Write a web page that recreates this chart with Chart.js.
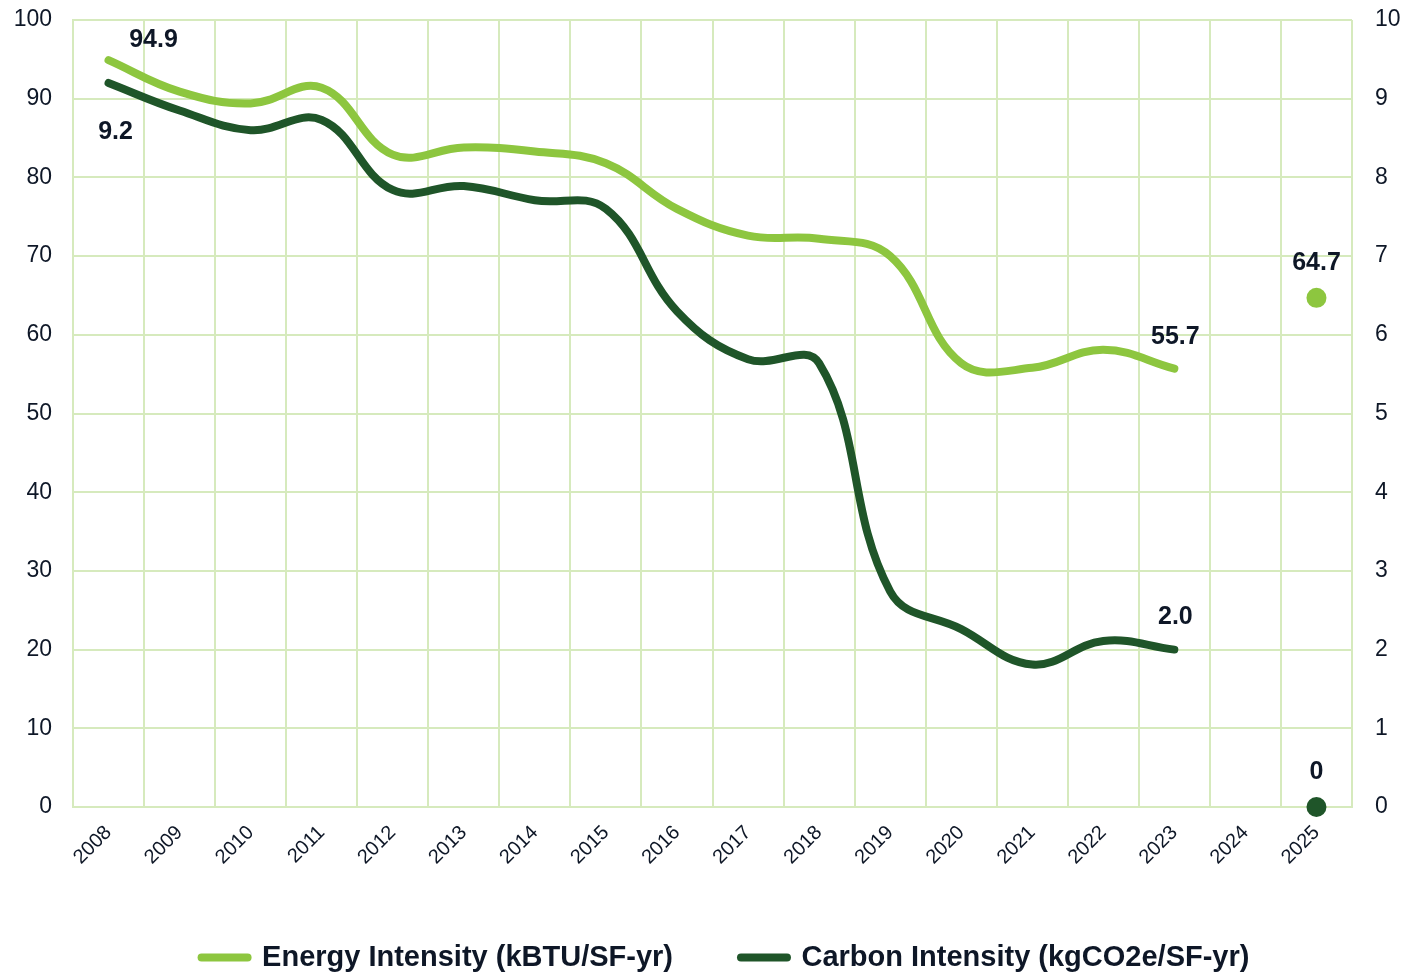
<!DOCTYPE html>
<html>
<head>
<meta charset="utf-8">
<script src="https://cdn.jsdelivr.net/npm/chart.js@4.4.1/dist/chart.umd.min.js"></script>
<style>
  html, body { margin: 0; padding: 0; background: #fff; }
  #wrap { width: 1403px; height: 974px; }
</style>
</head>
<body>
<div id="wrap"><canvas id="intensity-chart" width="1403" height="974"></canvas></div>
<script>
// 연도별 에너지 / 탄소 집약도
const years = ['2008', '2009', '2010', '2011', '2012', '2013', '2014', '2015', '2016',
  '2017', '2018', '2019', '2020', '2021', '2022', '2023', '2024', '2025'];
const energyIntensity = [94.9, 90.9, 89.4, 91.4, 82.9, 83.8, 83.3, 81.8, 76.0,
  72.6, 72.2, 70.0, 56.4, 55.8, 58.1, 55.7, null, 64.7];
const carbonIntensity = [9.2, 8.85, 8.6, 8.73, 7.84, 7.89, 7.71, 7.6, 6.3,
  5.69, 5.64, 2.74, 2.26, 1.81, 2.11, 2.0, null, 0];
const leftTicks = [0, 10, 20, 30, 40, 50, 60, 70, 80, 90, 100];
const rightTicks = [0, 1, 2, 3, 4, 5, 6, 7, 8, 9, 10];

const FONT = "'Liberation Sans', Arial, sans-serif";
const TEXT = '#0e1727';
const GRID = '#d6eabd';
const LIGHT = '#8dc63f';
const DARK = '#1f5529';
const lastIdx = years.length - 1;

// 값 라벨 (어느 점에, 얼마나 떨어져서)
const labelSpots = [
  { ds: 0, idx: 0, dx: 45, dy: -20 },
  { ds: 1, idx: 0, dx: 7, dy: 49 },
  { ds: 0, idx: 15, dx: 1, dy: -32 },
  { ds: 1, idx: 15, dx: 1, dy: -32 },
  { ds: 0, idx: lastIdx, dx: 0, dy: -35 },
  { ds: 1, idx: lastIdx, dx: 0, dy: -35 }
];

const valueLabels = {
  id: 'valueLabels',
  afterLayout(chart) {
    // 범례를 원본처럼 약간 오른쪽으로
    chart.legend.left += 20;
    chart.legend.right += 20;
  },
  afterDatasetsDraw(chart) {
    const ctx = chart.ctx;
    ctx.save();
    ctx.font = `bold 25px ${FONT}`;
    ctx.fillStyle = TEXT;
    ctx.textAlign = 'center';
    ctx.textBaseline = 'middle';
    labelSpots.forEach(s => {
      const v = chart.data.datasets[s.ds].data[s.idx];
      const pt = chart.getDatasetMeta(s.ds).data[s.idx];
      if (v == null || !pt) return;
      const txt = v === 0 ? '0' : v.toFixed(1);
      ctx.fillText(txt, pt.x + s.dx, pt.y + s.dy);
    });
    ctx.restore();
  }
};

const dotOnlyAtEnd = c => (c.dataIndex === lastIdx ? 10 : 0);

function lineSeries(label, data, axis, color) {
  return {
    label,
    data,
    yAxisID: axis,
    borderColor: color,
    backgroundColor: color,
    borderWidth: 8,
    borderCapStyle: 'round',
    borderJoinStyle: 'round',
    tension: 0.4,
    spanGaps: false,
    clip: false,
    pointRadius: dotOnlyAtEnd,
    pointHoverRadius: dotOnlyAtEnd,
    pointBorderWidth: 0,
    pointBackgroundColor: color
  };
}

new Chart(document.getElementById('intensity-chart'), {
  type: 'line',
  data: {
    labels: years,
    datasets: [
      lineSeries('Energy Intensity (kBTU/SF-yr)', energyIntensity, 'y', LIGHT),
      lineSeries('Carbon Intensity (kgCO2e/SF-yr)', carbonIntensity, 'y1', DARK)
    ]
  },
  options: {
    responsive: false,
    animation: false,
    layout: { padding: { top: 20, left: 8, right: 0, bottom: -8 } },
    plugins: {
      tooltip: { enabled: false },
      legend: {
        position: 'bottom',
        labels: {
          usePointStyle: true,
          pointStyle: 'line',
          pointStyleWidth: 46,
          boxHeight: 8,
          padding: 68,
          color: TEXT,
          font: { family: FONT, size: 29, weight: 'bold' },
          generateLabels: chart =>
            Chart.defaults.plugins.legend.labels.generateLabels(chart).map(item => ({
              ...item,
              pointStyle: 'line',
              lineWidth: 8,
              lineCap: 'round',
              strokeStyle: chart.data.datasets[item.datasetIndex].borderColor
            }))
        }
      }
    },
    scales: {
      x: {
        offset: true,
        grid: { offset: true, color: GRID, lineWidth: 2, drawTicks: false },
        border: { color: GRID, width: 2 },
        ticks: {
          autoSkip: false,
          minRotation: 45,
          maxRotation: 45,
          padding: 14,
          color: TEXT,
          font: { family: FONT, size: 20 }
        },
        afterFit: s => { s.height = 68; }
      },
      y: {
        position: 'left',
        min: 0,
        max: 100,
        afterBuildTicks: s => { s.ticks = leftTicks.map(v => ({ value: v })); },
        grid: { color: GRID, lineWidth: 2, drawTicks: true, tickLength: 21, tickColor: 'rgba(0,0,0,0)' },
        border: { color: GRID, width: 2 },
        ticks: { padding: 0, color: TEXT, font: { family: FONT, size: 23 } },
        afterFit: s => { s.width = 65; }
      },
      y1: {
        position: 'right',
        min: 0,
        max: 10,
        afterBuildTicks: s => { s.ticks = rightTicks.map(v => ({ value: v })); },
        grid: { drawOnChartArea: false, drawTicks: true, tickLength: 23, tickColor: 'rgba(0,0,0,0)' },
        border: { display: false },
        ticks: { padding: 0, color: TEXT, font: { family: FONT, size: 23 } },
        afterFit: s => { s.width = 51; }
      }
    }
  },
  plugins: [valueLabels]
});
</script>
</body>
</html>
